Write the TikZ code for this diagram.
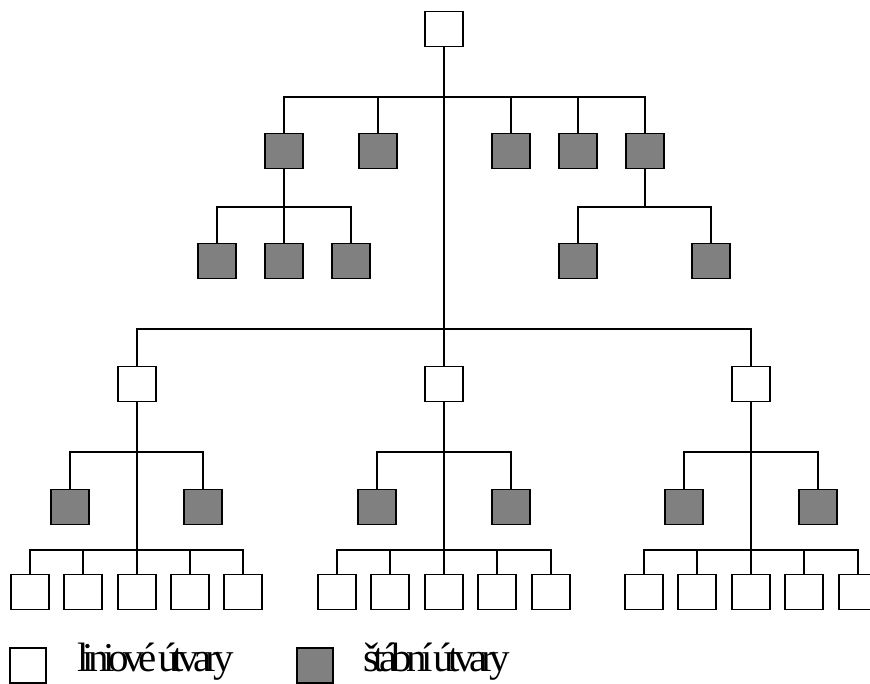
\documentclass[tikz,border=0pt]{standalone}
\usepackage{fontspec}
\setmainfont{Liberation Serif}
\newfontfamily\legendfont[LetterSpace=-14, WordSpace=0.3]{Liberation Serif}
\definecolor{staffgray}{HTML}{808080}
\tikzset{
  unit/.style={draw=black, line width=1.6pt, minimum width=38pt, minimum height=35pt, inner sep=0pt, fill=white},
  staff/.style={unit, fill=staffgray},
  link/.style={line width=1.5pt, line cap=rect},
  legendtext/.style={anchor=base west, inner sep=0pt, font=\legendfont\fontsize{41}{41}\selectfont}
}
\begin{document}
\begin{tikzpicture}[x=1pt, y=-1pt]
\clip (0,0) rectangle (870,684);
\fill[white] (0,0) rectangle (870,684);
% bar levels
\coordinate (b1) at (0,97);
\coordinate (b2) at (0,207);
\coordinate (b3) at (0,329);
\coordinate (b4) at (0,452);
\coordinate (b5) at (0,550);
% top
\node[unit] (T) at (444,29) {};
% row 1 staff
\node[staff] (S1) at (284,151) {};
\node[staff] (S2) at (378,151) {};
\node[staff] (S3) at (511,151) {};
\node[staff] (S4) at (578,151) {};
\node[staff] (S5) at (645,151) {};
% row 2 staff
\node[staff] (L1) at (217,261) {};
\node[staff] (L2) at (284,261) {};
\node[staff] (L3) at (351,261) {};
\node[staff] (R1) at (578,261) {};
\node[staff] (R2) at (711,261) {};
% level 3 line units
\node[unit] (A) at (137,384) {};
\node[unit] (B) at (444,384) {};
\node[unit] (C) at (751,384) {};
% staff under level 3
\node[staff] (A1) at (70,507) {};
\node[staff] (A2) at (203,507) {};
\node[staff] (B1) at (377,507) {};
\node[staff] (B2) at (511,507) {};
\node[staff] (C1) at (684,507) {};
\node[staff] (C2) at (818,507) {};
% bottom row
\node[unit] (A11) at (30,592) {};
\node[unit] (A12) at (83,592) {};
\node[unit] (A13) at (137,592) {};
\node[unit] (A14) at (190,592) {};
\node[unit] (A15) at (243,592) {};
\node[unit] (B11) at (337,592) {};
\node[unit] (B12) at (390,592) {};
\node[unit] (B13) at (444,592) {};
\node[unit] (B14) at (497,592) {};
\node[unit] (B15) at (551,592) {};
\node[unit] (C11) at (644,592) {};
\node[unit] (C12) at (697,592) {};
\node[unit] (C13) at (751,592) {};
\node[unit] (C14) at (804,592) {};
\node[unit] (C15) at (858,592) {};
% connectors: top
\draw[link] (T.south) -- (B.north);
\draw[link] (S1.north) |- (S5.north |- b1) -- (S5.north);
\draw[link] (S2.north) -- (S2.north |- b1);
\draw[link] (S3.north) -- (S3.north |- b1);
\draw[link] (S4.north) -- (S4.north |- b1);
% level 2 left
\draw[link] (S1.south) -- (L2.north);
\draw[link] (L1.north) |- (L3.north |- b2) -- (L3.north);
% level 2 right
\draw[link] (S5.south) -- (S5.south |- b2);
\draw[link] (R1.north) |- (R2.north |- b2) -- (R2.north);
% big bar
\draw[link] (A.north) |- (C.north |- b3) -- (C.north);
% groups
\foreach \g in {A,B,C}{
  \draw[link] (\g.south) -- (\g13.north);
  \draw[link] (\g1.north) |- (\g2.north |- b4) -- (\g2.north);
  \draw[link] (\g11.north) |- (\g15.north |- b5) -- (\g15.north);
  \draw[link] (\g12.north) -- (\g12.north |- b5);
  \draw[link] (\g14.north) -- (\g14.north |- b5);
}
% legend
\node[unit, minimum width=36pt, minimum height=35pt] (LW) at (28,665.5) {};
\node[legendtext] (LWt) at (77,671) {liniové útvary};
\node[staff, minimum width=36pt, minimum height=35pt] (LS) at (315,665.5) {};
\node[legendtext] (LSt) at (363,671) {štábní útvary};
\end{tikzpicture}
\end{document}
